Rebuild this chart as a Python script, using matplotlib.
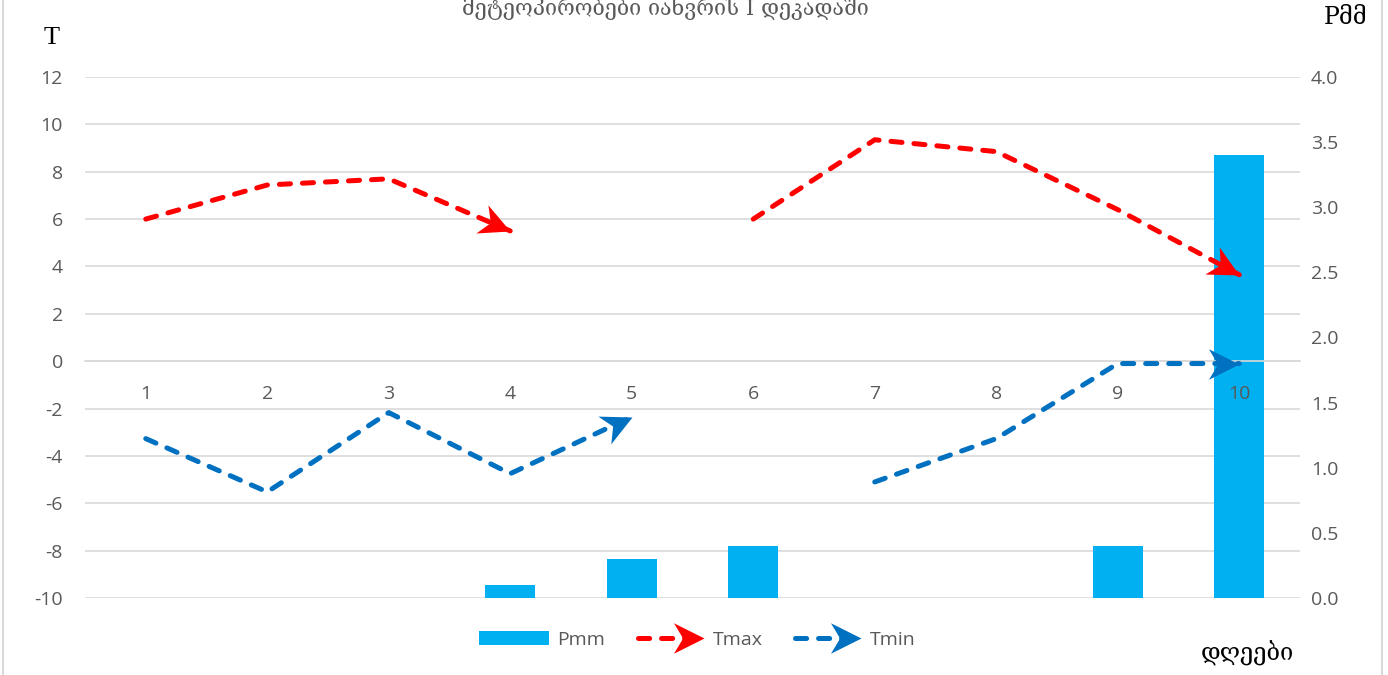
import numpy as np
import matplotlib
matplotlib.use("Agg")
import matplotlib.pyplot as plt
from matplotlib.path import Path
from matplotlib.markers import MarkerStyle
from matplotlib.transforms import Affine2D
from matplotlib.legend_handler import HandlerLine2D
from matplotlib.lines import Line2D
from matplotlib.patches import Patch, Rectangle

# ---------------- data ----------------
days = [1, 2, 3, 4, 5, 6, 7, 8, 9, 10]
day_labels = ["1", "2", "3", "4", "5", "6", "7", "8", "9", "10"]
tmax = [6.0, 7.44, 7.7, 5.5, np.nan, 6.0, 9.35, 8.85, 6.4, 3.65]
tmin = [-3.27, -5.52, -2.17, -4.75, -2.35, np.nan, -5.1, -3.27, -0.1, -0.1]
pmm = [0.0, 0.0, 0.0, 0.1, 0.3, 0.4, 0.0, 0.0, 0.4, 3.4]
left_ticks = [-10, -8, -6, -4, -2, 0, 2, 4, 6, 8, 10, 12]
right_ticks = [0.0, 0.5, 1.0, 1.5, 2.0, 2.5, 3.0, 3.5, 4.0]

title_text = "მეტეოპირობები იანვრის I დეკადაში"
ylabel_left = "T"
ylabel_right = "Pმმ"
xlabel_text = "დღეები"

# ---------------- style ----------------
plt.rcParams["lines.scale_dashes"] = False
TICK_FONT = "Open Sans"
SERIF = ["Liberation Serif", "DejaVu Serif", "DejaVu Sans"]
GEO = ["DejaVu Serif", "DejaVu Sans"]
GRAY = "#595959"
GRID = "#D9D9D9"
RED = "#FF0000"
BLUE = "#0070C0"
BARC = "#00B0F0"
LW = 3.6
DASH = (0, (8.0, 8.6))
ARROW_MS = 44

# stealth arrow marker, tip at origin pointing +x
arrow_path = Path([(0, 0), (-1, 0.5), (-0.7, 0), (-1, -0.5), (0, 0)],
                  [Path.MOVETO, Path.LINETO, Path.LINETO, Path.LINETO, Path.CLOSEPOLY])


def arrow_marker(angle_deg):
    return MarkerStyle(arrow_path, transform=Affine2D().rotate_deg(angle_deg))


W, H = 1388, 675
fig = plt.figure(figsize=(W / 100, H / 100), dpi=100)
pos = [85 / W, 1 - 598 / H, (1300 - 85) / W, (598 - 77) / H]

# base axis: grid + left ticks
ax = fig.add_axes(pos)
ax.set_xlim(0.5, 10.5)
ax.set_ylim(-10, 12)
ax.set_yticks(left_ticks)
ax.set_yticklabels([str(t) for t in left_ticks], fontfamily=TICK_FONT,
                   fontsize=14, color=GRAY)
ax.tick_params(axis="y", length=0, pad=16)
ax.tick_params(axis="x", length=0, labelbottom=False, bottom=False)
ax.grid(axis="y", color=GRID, linewidth=1.2)
ax.set_axisbelow(True)
for s in ax.spines.values():
    s.set_visible(False)

# bars on right axis
ax2 = ax.twinx()
ax2.set_ylim(0, 4.0)
ax2.bar(days, pmm, width=0.41, color=BARC, zorder=2)
ax2.set_yticks(right_ticks)
ax2.set_yticklabels([f"{t:.1f}" for t in right_ticks], fontfamily=TICK_FONT,
                    fontsize=14, color=GRAY)
ax2.tick_params(axis="y", length=0, pad=8)
ax2.tick_params(axis="x", length=0, labelbottom=False, bottom=False)
for s in ax2.spines.values():
    s.set_visible(False)

# top axis: lines + category axis at 0
ax3 = fig.add_axes(pos, sharex=ax, sharey=ax)
ax3.patch.set_visible(False)
ax3.yaxis.set_visible(False)
for k in ("left", "right", "top"):
    ax3.spines[k].set_visible(False)
ax3.spines["bottom"].set_position(("data", 0))
ax3.spines["bottom"].set_color(GRID)
ax3.spines["bottom"].set_linewidth(1.2)
ax3.set_xticks(days)
ax3.set_xticklabels(day_labels, fontfamily=TICK_FONT, fontsize=14, color=GRAY)
ax3.tick_params(axis="x", length=0, pad=17)
ax3.set_xlim(0.5, 10.5)
ax3.set_ylim(-10, 12)


def draw_series(xs, ys, color):
    xs = np.asarray(xs, float)
    ys = np.asarray(ys, float)
    ok = ~np.isnan(ys)
    runs, cur = [], []
    for i in range(len(xs)):
        if ok[i]:
            cur.append(i)
        else:
            if cur:
                runs.append(cur)
            cur = []
    if cur:
        runs.append(cur)
    for r in runs:
        rx, ry = xs[r], ys[r]
        ax3.plot(rx, ry, color=color, linewidth=LW, linestyle=DASH,
                 dash_capstyle="round", solid_capstyle="round",
                 dash_joinstyle="round", zorder=3)
        if len(r) >= 2:
            p = ax3.transData.transform(np.column_stack([rx[-2:], ry[-2:]]))
            ang = np.degrees(np.arctan2(p[1, 1] - p[0, 1], p[1, 0] - p[0, 0]))
            ax3.plot([rx[-1]], [ry[-1]], linestyle="none",
                     marker=arrow_marker(ang), markersize=ARROW_MS,
                     color=color, markeredgewidth=0, zorder=4)


draw_series(days, tmax, RED)
draw_series(days, tmin, BLUE)


class ArrowHandler(HandlerLine2D):
    def create_artists(self, legend, orig_handle, xdescent, ydescent,
                       width, height, fontsize, trans):
        y = (height - ydescent) / 2.0
        x0, x1 = -xdescent, width - xdescent
        c = orig_handle.get_color()
        line = Line2D([x0 + 3, x1 - 10], [y, y], color=c, linewidth=LW,
                      linestyle=DASH, dash_capstyle="round")
        head = Line2D([x1], [y], linestyle="none", marker=arrow_marker(0),
                      markersize=ARROW_MS, color=c, markeredgewidth=0)
        line.set_transform(trans)
        head.set_transform(trans)
        return [line, head]


h_p = Patch(facecolor=BARC, edgecolor="none")
h_max = Line2D([], [], color=RED)
h_min = Line2D([], [], color=BLUE)
leg = fig.legend([h_p, h_max, h_min], ["Pmm", "Tmax", "Tmin"],
                 loc="center", bbox_to_anchor=(697 / W, 1 - 640 / H),
                 ncol=3, frameon=False, handlelength=3.6, handleheight=0.7,
                 handletextpad=0.45, columnspacing=1.45,
                 prop={"family": TICK_FONT, "size": 14},
                 handler_map={Line2D: ArrowHandler()})
for t in leg.get_texts():
    t.set_color(GRAY)

# texts
fig.text(665 / W, 1 - 15 / H, title_text, ha="center", va="baseline",
         fontsize=15.5, color=GRAY, family=GEO)
fig.text(52 / W, 1 - 38 / H, ylabel_left, ha="center", va="center",
         fontsize=19, color="black", family=SERIF)
fig.text(1346 / W, 1 - 17 / H, ylabel_right, ha="center", va="center",
         fontsize=17, color="black", family=GEO)
fig.text(1247 / W, 1 - 653 / H, xlabel_text, ha="center", va="center",
         fontsize=17, color="black", family=GEO)

# chart frame
fig.patches.append(Rectangle((3 / W, -0.05), (1382 - 3) / W, 1.1,
                             transform=fig.transFigure, fill=False,
                             edgecolor=GRID, linewidth=1.5))

fig.savefig("out.png", dpi=100, facecolor="white")
